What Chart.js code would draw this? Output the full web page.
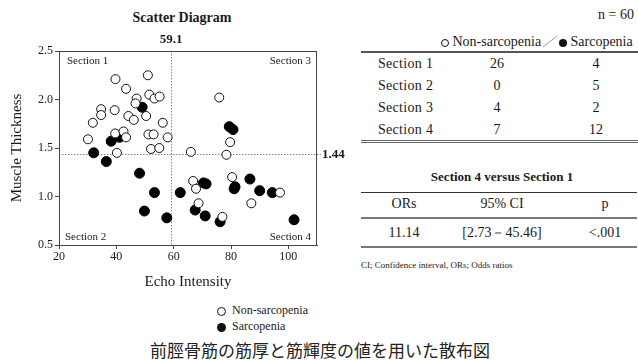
<!DOCTYPE html>
<html>
<head>
<meta charset="utf-8">
<script src="https://cdn.jsdelivr.net/npm/chart.js@4/dist/chart.umd.min.js"></script>
<style>
  body { margin: 0; background: #fff; width: 638px; height: 360px; position: relative; overflow: hidden;
         font-family: 'Liberation Serif', 'Times New Roman', serif; color: #1a1a1a; }
  .t { position: absolute; white-space: nowrap; line-height: 1; }
  .c { transform: translate(-50%, -50%); }
  .l { transform: translate(0, -50%); }
  .r { transform: translate(-100%, -50%); }
  .hl { position: absolute; height: 0; }
  .dot { display: inline-block; width: 9px; height: 9px; border-radius: 50%; box-sizing: border-box; vertical-align: middle; }
  .open { border: 1px solid #111; background: #fff; }
  .fill { background: #111; }
</style>
</head>
<body>
<div class="t c" style="left:182px;top:18px;font-size:14px;font-weight:bold;">Scatter Diagram</div>
<canvas id="scatter" width="360" height="300" style="position:absolute;left:0;top:0;"></canvas>

<div id="legend"></div>
<div id="caption" class="t c" style="left:320px;top:349px;font-size:17px;font-family:'Noto Sans CJK JP',sans-serif;color:#222;"></div>

<div id="tables"></div>

<script>
// Echo intensity / muscle thickness per participant
const nonSarcEcho = [39.7, 51.0, 43.4, 47.1, 46.7, 51.5, 53.3, 55.1, 34.7, 39.4, 34.7, 44.2, 46.1,
                     50.4, 31.8, 56.2, 39.6, 42.5, 43.4, 51.2, 53.0, 57.9, 30.1, 52.1, 55.0, 40.2,
                     75.9, 79.7, 66.0, 78.4,
                     66.8, 67.8, 68.7, 80.4, 87.1, 97.1, 77.0];
const nonSarcThick = [2.21, 2.25, 2.11, 2.01, 1.96, 2.05, 2.01, 2.03, 1.90, 1.89, 1.84, 1.83, 1.79,
                      1.83, 1.76, 1.76, 1.65, 1.67, 1.61, 1.64, 1.64, 1.61, 1.59, 1.49, 1.50, 1.45,
                      2.02, 1.56, 1.46, 1.43,
                      1.16, 1.08, 0.93, 1.20, 0.93, 1.04, 0.79];
const sarcEcho = [49.0, 41.1, 38.2, 32.1,
                  36.5, 48.1, 53.3, 49.8, 57.6,
                  79.4, 80.7,
                  62.3, 70.4, 71.3, 81.1, 81.4, 86.6, 90.0, 94.4, 67.5, 71.0, 76.2, 102.0];
const sarcThick = [1.92, 1.61, 1.57, 1.45,
                   1.36, 1.24, 1.04, 0.85, 0.78,
                   1.72, 1.69,
                   1.04, 1.14, 1.13, 1.08, 1.10, 1.18, 1.06, 1.04, 0.86, 0.80, 0.74, 0.76];

// Cut-off values splitting the plane into four sections
const echoCut = 59.1;
const thickCut = 1.44;

// Axis ticks
const echoTicks = [20, 40, 60, 80, 100];
const thickTicks = [0.5, 1.0, 1.5, 2.0, 2.5];

// Section counts table
const sections = ['Section 1', 'Section 2', 'Section 3', 'Section 4'];
const nonSarcCounts = [26, 0, 4, 7];
const sarcCounts = [4, 5, 2, 12];

// Odds ratio table
const orHeaders = ['ORs', '95% CI', 'p'];
const orValues = ['11.14', '[2.73－45.46]', '<.001'];

const seriesNames = ['Non-sarcopenia', 'Sarcopenia'];
const captionText = '前脛骨筋の筋厚と筋輝度の値を用いた散布図';

const toPoints = (xs, ys) => xs.map((x, i) => ({ x, y: ys[i] }));
const serif = 'Liberation Serif';

const quadrantPlugin = {
  id: 'quadrants',
  beforeDatasetsDraw(chart) {
    const { ctx, chartArea: a, scales: { x, y } } = chart;
    const vx = x.getPixelForValue(echoCut), hy = y.getPixelForValue(thickCut);
    ctx.save();
    ctx.strokeStyle = '#888';
    ctx.lineWidth = 1;
    ctx.setLineDash([1.5, 1.5]);
    ctx.beginPath();
    ctx.moveTo(Math.round(vx) + 0.5, a.top); ctx.lineTo(Math.round(vx) + 0.5, a.bottom);
    ctx.moveTo(a.left, Math.round(hy) + 0.5); ctx.lineTo(a.right + 4, Math.round(hy) + 0.5);
    ctx.stroke();
    ctx.restore();
  },
  afterDatasetsDraw(chart) {
    const { ctx, chartArea: a, scales: { x, y } } = chart;
    ctx.save();
    ctx.strokeStyle = '#444';
    ctx.lineWidth = 1;
    ctx.strokeRect(a.left + 0.5, a.top + 0.5, a.right - a.left - 1, a.bottom - a.top);
    ctx.fillStyle = '#1a1a1a';
    ctx.font = `11px "${serif}"`;
    ctx.textBaseline = 'middle';
    ctx.textAlign = 'left';
    ctx.fillText(sections[0], a.left + 8, a.top + 10);
    ctx.fillText(sections[1], a.left + 6, a.bottom - 8);
    ctx.textAlign = 'right';
    ctx.fillText(sections[2], a.right - 6, a.top + 10);
    ctx.fillText(sections[3], a.right - 6, a.bottom - 8);
    ctx.font = `bold 13px "${serif}"`;
    ctx.textAlign = 'center';
    ctx.fillText(String(echoCut), x.getPixelForValue(echoCut), a.top - 11);
    ctx.textAlign = 'left';
    ctx.fillText(thickCut.toFixed(2), a.right + 5, y.getPixelForValue(thickCut) + 1);
    ctx.restore();
  }
};

new Chart(document.getElementById('scatter'), {
  type: 'scatter',
  data: {
    datasets: [
      { label: seriesNames[0], data: toPoints(nonSarcEcho, nonSarcThick),
        pointRadius: 4.5, pointBorderWidth: 1, pointBackgroundColor: '#fff', pointBorderColor: '#111' },
      { label: seriesNames[1], data: toPoints(sarcEcho, sarcThick),
        pointRadius: 5, pointBorderWidth: 1, pointBackgroundColor: '#000', pointBorderColor: '#000' }
    ]
  },
  options: {
    responsive: false,
    animation: false,
    devicePixelRatio: 1,
    layout: { padding: { top: 51, right: 43, left: 0, bottom: 0 } },
    plugins: { legend: { display: false }, tooltip: { enabled: false } },
    scales: {
      x: {
        type: 'linear', min: 20, max: 110,
        afterBuildTicks: s => { s.ticks = echoTicks.map(v => ({ value: v })); },
        afterFit: s => { s.height = 55; },
        grid: { display: true, drawOnChartArea: false, drawTicks: true, tickLength: 4, color: '#444' },
        border: { display: true, color: '#444' },
        ticks: { font: { family: serif, size: 12 }, color: '#1a1a1a', padding: 1 },
        title: { display: true, text: 'Echo Intensity', font: { family: serif, size: 15 }, color: '#1a1a1a',
                 padding: { top: 0, bottom: 9 } }
      },
      y: {
        type: 'linear', min: 0.5, max: 2.5,
        afterBuildTicks: s => { s.ticks = thickTicks.map(v => ({ value: v })); },
        afterFit: s => { s.width = 59; },
        grid: { display: true, drawOnChartArea: false, drawTicks: true, tickLength: 4, color: '#444' },
        border: { display: true, color: '#444' },
        ticks: { font: { family: serif, size: 12 }, color: '#1a1a1a', padding: 2, callback: v => v.toFixed(1) },
        title: { display: true, text: 'Muscle Thickness', font: { family: serif, size: 15 }, color: '#1a1a1a',
                 padding: { top: 8, bottom: 0 } }
      }
    }
  },
  plugins: [quadrantPlugin]
});

// Legend below the plot
document.getElementById('legend').innerHTML =
  `<div class="t l" style="left:217px;top:310px;font-size:12px;"><span class="dot open"></span>&nbsp; ${seriesNames[0]}</div>` +
  `<div class="t l" style="left:217px;top:326px;font-size:12px;"><span class="dot fill"></span>&nbsp; ${seriesNames[1]}</div>`;
document.getElementById('caption').textContent = captionText;

// Tables on the right
let html = '';
html += `<div class="t r" style="left:634px;top:15px;font-size:14px;">n = 60</div>`;
html += `<div class="t l" style="left:441px;top:42px;font-size:14px;"><span class="dot open" style="width:8px;height:8px"></span> ${seriesNames[0]}</div>`;
html += `<svg style="position:absolute;left:540px;top:34px" width="20" height="16"><line x1="3" y1="13" x2="17" y2="2" stroke="#999" stroke-width="1"/></svg>`;
html += `<div class="t l" style="left:559px;top:42px;font-size:14px;"><span class="dot fill" style="width:8px;height:8px"></span> ${seriesNames[1]}</div>`;
html += `<div class="hl" style="left:361px;top:51px;width:277px;border-top:2px solid #555;"></div>`;
const rowY = [64, 86, 108, 130];
sections.forEach((s, i) => {
  html += `<div class="t l" style="left:378px;top:${rowY[i]}px;font-size:14px;letter-spacing:0.3px;">${s}</div>`;
  html += `<div class="t c" style="left:497px;top:${rowY[i]}px;font-size:14px;">${nonSarcCounts[i]}</div>`;
  html += `<div class="t c" style="left:596px;top:${rowY[i]}px;font-size:14px;">${sarcCounts[i]}</div>`;
});
html += `<div class="hl" style="left:361px;top:140px;width:277px;border-top:3px double #666;"></div>`;

html += `<div class="t c" style="left:502px;top:176px;font-size:13px;font-weight:bold;">Section 4 versus Section 1</div>`;
html += `<div class="hl" style="left:361px;top:192px;width:276px;border-top:1.5px solid #333;"></div>`;
const orX = [404, 502, 605];
orHeaders.forEach((h, i) => {
  html += `<div class="t c" style="left:${orX[i]}px;top:204px;font-size:14px;">${h}</div>`;
  html += `<div class="t c" style="left:${orX[i]}px;top:233px;font-size:14px;">${orValues[i]}</div>`;
});
html += `<div class="hl" style="left:361px;top:217px;width:276px;border-top:2px solid #777;"></div>`;
html += `<div class="hl" style="left:361px;top:246px;width:276px;border-top:2px solid #777;"></div>`;
html += `<div class="t l" style="left:361px;top:265px;font-size:9px;">CI; Confidence interval, ORs; Odds ratios</div>`;
document.getElementById('tables').innerHTML = html;
</script>
</body>
</html>
